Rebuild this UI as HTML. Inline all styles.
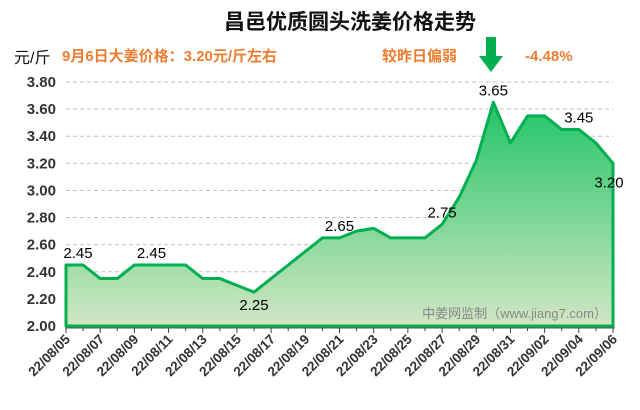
<!DOCTYPE html>
<html><head><meta charset="utf-8"><style>
body{margin:0;background:#fff;}
svg{display:block;font-family:"Liberation Sans","Noto Sans CJK SC",sans-serif;}
</style></head><body>
<svg id="chart" width="640" height="410" viewBox="0 0 640 410">
<defs><linearGradient id="g" x1="0" y1="0" x2="0" y2="1">
<stop offset="0" stop-color="#22c566"/><stop offset="1" stop-color="#d2e6c4"/></linearGradient></defs>
<text x="350" y="29" text-anchor="middle" font-size="21" font-weight="bold" fill="#111">昌邑优质圆头洗姜价格走势</text>
<text x="14" y="63" font-size="16" fill="#111">元/斤</text>
<text x="62" y="61" font-size="15" font-weight="bold" fill="#ed7d31">9月6日大姜价格：3.20元/斤左右</text>
<text x="382" y="61" font-size="15" font-weight="bold" fill="#ed7d31">较昨日偏弱</text>
<polygon points="486,37 496,37 496,56 503,56 491,72 479,56 486,56" fill="#00b050"/>
<text x="525" y="61" font-size="15" font-weight="bold" fill="#ed7d31">-4.48%</text>
<g id="grid"></g><g id="plot"></g><g id="axes"></g>
<text x="607" y="318" text-anchor="end" font-size="13" fill="#888">中姜网监制（www.jiang7.com）</text>
</svg>
<script>
const dates=["22/08/05","22/08/06","22/08/07","22/08/08","22/08/09","22/08/10","22/08/11","22/08/12","22/08/13","22/08/14","22/08/15","22/08/16","22/08/17","22/08/18","22/08/19","22/08/20","22/08/21","22/08/22","22/08/23","22/08/24","22/08/25","22/08/26","22/08/27","22/08/28","22/08/29","22/08/30","22/08/31","22/09/01","22/09/02","22/09/03","22/09/04","22/09/05","22/09/06"];
const prices=[2.45,2.45,2.35,2.35,2.45,2.45,2.45,2.45,2.35,2.35,2.30,2.25,2.35,2.45,2.55,2.65,2.65,2.70,2.72,2.65,2.65,2.65,2.75,2.95,3.22,3.65,3.35,3.55,3.55,3.45,3.45,3.35,3.20];
const labelIdx=[0,5,11,16,22,25,30,32];
const yTicks=[2.0,2.2,2.4,2.6,2.8,3.0,3.2,3.4,3.6,3.8];
const NS="http://www.w3.org/2000/svg";
const X0=66,X1=613,Y0=326,Y1=82,VMIN=2.0,VMAX=3.8;
function xs(i){return X0+(X1-X0)*i/(dates.length-1);}
function ys(v){return Y0-(v-VMIN)/(VMAX-VMIN)*(Y0-Y1);}
function mk(tag,attrs,parent){const e=document.createElementNS(NS,tag);for(const k in attrs)e.setAttribute(k,attrs[k]);parent.appendChild(e);return e;}
const grid=document.getElementById('grid'),plot=document.getElementById('plot'),axes=document.getElementById('axes');
yTicks.forEach(v=>{
 if(v>VMIN){const l=mk('line',{x1:X0,x2:X1,y1:ys(v),y2:ys(v),stroke:'#c0c0c0','stroke-dasharray':'4,3'},grid);
 
 }
 const t=mk('text',{x:56,y:ys(v)+5,'text-anchor':'end','font-size':15,'font-weight':'bold',fill:'#333'},axes);
 t.textContent=v.toFixed(2);
 
 
});
let d='M'+xs(0)+','+Y0;
prices.forEach((v,i)=>{d+=' L'+xs(i)+','+ys(v);});
d+=' L'+xs(prices.length-1)+','+Y0+' Z';
const area=mk('path',{d:d,fill:'url(#g)',stroke:'#00b050','stroke-width':3,'stroke-linejoin':'round'},plot);


labelIdx.forEach(i=>{
 const v=prices[i];let x=xs(i),y=ys(v)-7;
 if(i===0)x+=12;
 if(i===11)y=ys(v)+18;
 if(i===32){y=ys(v)+24;x-=4;}
 const t=mk('text',{x:x,y:y,'text-anchor':'middle','font-size':15,fill:'#000'},plot);
 t.textContent=v.toFixed(2);
 
 
});
const ax=mk('line',{x1:X0-1,x2:X1+2,y1:Y0+2,y2:Y0+2,stroke:'#555','stroke-width':1},axes);


dates.forEach((s,i)=>{
 const major=i%2===0;
 const tk=mk('line',{x1:xs(i),x2:xs(i),y1:Y0+2,y2:Y0+(major?7:5),stroke:'#444'},axes);
 
 
 if(major){const x=xs(i)+5,y=Y0+14;
  const t=mk('text',{x:x,y:y,'text-anchor':'end','font-size':13.5,'font-weight':'bold',fill:'#333',transform:'rotate(-45 '+x+' '+y+')'},axes);
  t.textContent=s;
  
  }
});
</script>
</body></html>
